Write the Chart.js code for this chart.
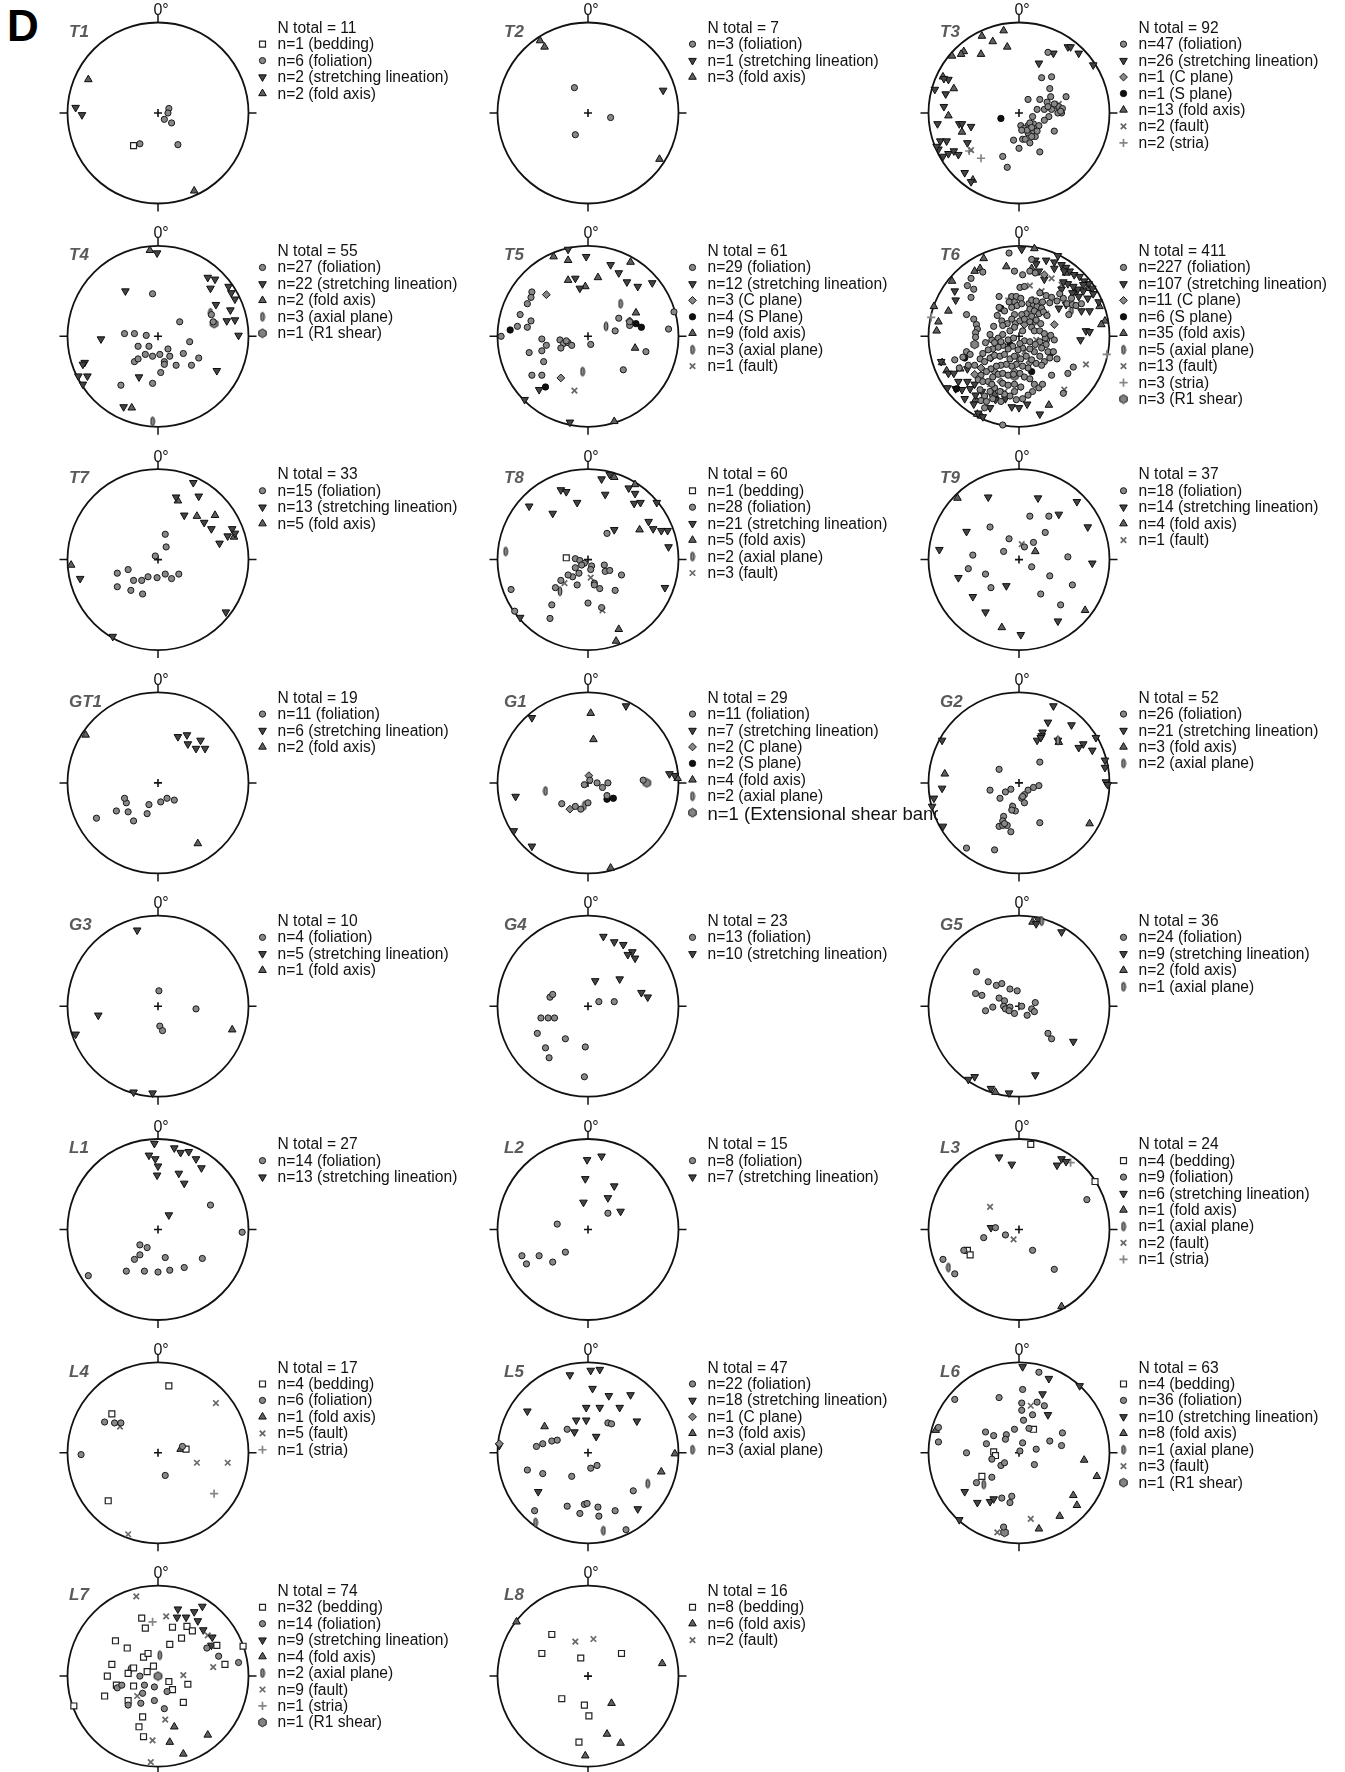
<!DOCTYPE html>
<html>
<head>
<meta charset="utf-8">
<script src="https://cdn.jsdelivr.net/npm/chart.js@4.4.1/dist/chart.umd.min.js"></script>
<style>
  html, body { margin: 0; padding: 0; background: #fff; }
  #sheet { position: relative; width: 1345px; height: 1772px; overflow: hidden; background: #fff; }
  #sheet canvas { position: absolute; }
  #panel { position: absolute; left: 7px; top: 4px; font: bold 44px "Liberation Sans", Arial, sans-serif; line-height: 44px; color: #000; }
</style>
</head>
<body>
<div id="sheet"><div id="panel">D</div></div>
<script>
// Stereonet projections: x, y in percent of the primitive circle radius (east, north).
// Keys: b bedding, f foliation, s stretching lineation, c C plane, S S plane,
// a fold axis, p axial plane, x fault, t stria, r R1 shear, e extensional shear band.

const T1 = { b:[-27,-36], f:[-20,-34, 12,5, 11,0, 7,-7, 15,-11, 22,-35], s:[-91,6, -84,-2], a:[-77,37, 40,-86] };
const T1_KEY = ['N total = 11', ['b','n=1 (bedding)'], ['f','n=6 (foliation)'], ['s','n=2 (stretching lineation)'], ['a','n=2 (fold axis)']];

const T2 = { f:[-15,28, -14,-24, 25,-5], s:[83,25], a:[-53,80, -48,73, 79,-51] };
const T2_KEY = ['N total = 7', ['f','n=3 (foliation)'], ['s','n=1 (stretching lineation)'], ['a','n=3 (fold axis)']];

const T3 = {
  f:[32,67, 25,39, 36,40, 34,27, 10,15, 23,15, 35,18, 52,18, 31,12, 20,4, 28,4, 36,4, 15,-4, 33,-4, 28,-8, 44,7, 48,5, 47,0, 43,0, 2,-14, 10,-14, 16,-12, 6,-17, 13,-18, 19,-17, 22,-14, 16,-21, 10,-22, 18,-26, -6,-30, 4,-29, 7,-29, 12,-33, 0,-39, 23,-43, 39,-20, -18,-48, -13,-60, 14,-26, 9,-19, 3,-19, 12,-11, 39,10, 46,2, 20,-20, 14,-16, 32,7],
  s:[38,66, 54,73, 57,73, 66,66, 82,53, 22,55, -78,37, -93,26, -81,21, -83,7, -90,-12, -66,-12, -63,-12, -53,-15, -87,-31, -80,-31, -89,-40, -84,-48, -78,-45, -72,-42, -67,-46, -57,-33, -60,-66, -53,-76, -91,-37, -83,38],
  a:[-17,91, -41,85, -29,79, -13,73, -61,68, -64,65, -74,63, -42,65, -84,40, -72,27, -78,-3, -63,-21, -51,-74],
  c:[41,8], S:[-20,-6], x:[-53,-41, 44,10], t:[-42,-50, -55,-42]
};
const T3_KEY = ['N total = 92', ['f','n=47 (foliation)'], ['s','n=26 (stretching lineation)'], ['c','n=1 (C plane)'], ['S','n=1 (S plane)'], ['a','n=13 (fold axis)'], ['x','n=2 (fault)'], ['t','n=2 (stria)']];

const T4 = {
  f:[-6,47, 24,16, -37,3, -26,3, -13,1, -22,-11, -10,-11, -14,-20, -6,-22, 2,-20, 11,-14, 13,-22, 7,-28, 7,-31, 20,-32, 28,-19, 35,-6, 45,-24, 37,-32, 3,-40, -6,-52, -41,-54, -26,-28, -22,-25, 59,24, 61,16],
  s:[-1,92, -36,50, 55,65, 63,63, 58,53, 78,55, 81,48, 85,41, 64,35, 80,29, 76,17, 85,18, 89,1, -63,-3, -81,-29, -83,-31, -88,-44, -78,-44, -83,-53, -21,-45, 65,-38, -38,-78],
  a:[-9,95, -29,-79], p:[-6,-94, 58,26], r:[62,14]
};
const T4_KEY = ['N total = 55', ['f','n=27 (foliation)'], ['s','n=22 (stretching lineation)'], ['a','n=2 (fold axis)'], ['p','n=3 (axial plane)'], ['r','n=1 (R1 shear)']];

const T5 = {
  f:[-62,49, -63,43, -67,36, -75,24, -63,17, -67,10, -78,11, -96,0, -51,-3, -46,-10, -51,-16, -65,-18, -49,-28, -62,-43, -51,-43, -31,-4, -27,-8, -22,-7, -18,-10, -30,-13, 3,-9, 30,6, 34,20, 46,12, 64,-17, 39,-37, 89,8, 95,27, -24,-5, 46,16],
  S:[-86,7, -47,-56, 53,14, 59,10], c:[-46,46, -30,-46, 46,17], p:[36,36, 20,11, -6,-39], x:[-15,-60],
  s:[-22,96, -2,88, 25,79, 34,70, 43,60, 55,55, 71,59, -14,64, -9,53, -54,-59, -70,-70, -20,-95],
  a:[-38,88, -22,84, 47,82, 11,65, -22,62, -3,55, 53,26, 52,-13, 29,-94]
};
const T5_KEY = ['N total = 61', ['f','n=29 (foliation)'], ['s','n=12 (stretching lineation)'], ['c','n=3 (C plane)'], ['S','n=4 (S Plane)'], ['a','n=9 (fold axis)'], ['p','n=3 (axial plane)'], ['x','n=1 (fault)']];

const T6 = {
  f:[-11,92, 14,85, -5,72, 4,68, 12,72, 18,70, -40,71, -53,64, -57,56, -50,52, -53,43, 1,54, 6,55, -58,24, -50,19, -47,13, -46,8, -48,4, -48,-1, 23,48, 30,45, 36,43, 42,39, 49,42, 53,36, 59,35, 63,34, -8,44, -3,44, 2,42, -5,38, -8,32, -2,34, 3,36, 11,36, 16,35, 20,33, 25,31, 12,30, 17,28, 22,25, 27,27, 31,23, 8,25, 14,22, 3,24, -5,24, -8,19, -13,14, -4,14, 1,17, 6,19, 12,16, 19,18, 24,14, 14,10, 4,6, -5,10, -10,6, -19,17, -22,32, -18,12, -24,23, -37,-7, -30,-4, -23,-2, -18,2, -12,-4, -6,-2, 6,-5, 12,-6, 23,-6, 29,-2, 35,1, 39,-4, 30,-9, 25,-13, 32,-17, 38,-17, 42,-25, 34,-24, 28,-28, 23,-22, 17,-17, 12,-14, 4,-13, -1,-15, -7,-11, -12,-14, -18,-10, -23,-12, -29,-14, -34,-15, -40,-19, -43,-25, -38,-28, -32,-24, -27,-21, -21,-22, -16,-20, -10,-25, -5,-22, 2,-25, 8,-22, 14,-26, 19,-30, 25,-32, 10,-35, 4,-33, -3,-31, -8,-33, -14,-31, -20,-32, -25,-33, -31,-36, -36,-39, -42,-43, -45,-48, -40,-50, -34,-50, -29,-45, -23,-42, -18,-41, -12,-43, -6,-42, 1,-41, 6,-45, 12,-47, 17,-53, 22,-57, 26,-53, 15,-61, 10,-65, 4,-69, -3,-70, -10,-66, -16,-64, -21,-61, -27,-57, -32,-61, -38,-66, -42,-71, -36,-72, -29,-69, -20,-72, -18,-52, -12,-54, -5,-53, 2,-56, -5,-61, 36,-43, 54,-41, 60,-34, 49,-63, -38,-79, -18,-98, -58,-17, -54,-20, -62,-23, -71,-26, -66,-35, -56,-32, -49,-32, -30,-53, -43,-59, -22,44, 34,37, 14,40, 19,39, 26,38, -16,28, -11,38, -28,11, -32,2, 17,6, 23,6, 28,3, -27,-7, -20,-6, 1,-8, 18,-9, 45,47, 58,42, 69,36, 55,24],
  s:[3,96, 18,84, 30,84, 22,72, 28,63, 43,89, 39,82, 47,79, 52,76, 56,72, 61,68, 67,66, 72,61, 77,58, 81,53, 71,50, 65,52, 60,55, 54,58, 49,60, 47,52, 59,48, 66,44, 76,42, 82,47, 88,38, 78,28, 69,28, 44,31, 74,6, 78,5, 68,-4, -71,50, -70,40, -86,-28, -78,-41, -72,-41, -57,-36, -67,-50, -57,-50, -79,-57, -70,-58, -63,-59, -54,-58, -48,-65, -41,-61, -60,-69, -50,-75, -45,-85, -40,-89, -26,-70, -15,-69, 0,-79, 23,-86, -8,-78, 9,-75, -32,-79, -49,-53, 50,72, 39,75, 71,57, 52,35, 19,80],
  a:[-39,86, 17,97, -49,72, -43,75, -14,77, -74,61, -78,28, -94,33, -89,16, -91,6, -85,-29, -65,-36, -80,-38, 89,33, 95,17, 91,13, 33,-76, -46,-86, -48,-70, 52,70, 76,53, -27,-64, 61,48, 14,75, -42,-88],
  x:[12,56, 36,64, 30,25, 19,-4, 74,-31, 50,-59, -21,29, 0,-57, -32,-53, 25,50, 47,57, -16,-61, 6,-17],
  t:[-97,21, 97,-20, -11,42],
  c:[-42,-35, 28,68, 21,26, 12,-29, -31,-24, -5,-39, 39,13, -20,-50, 6,13, -49,-42, -27,-39],
  S:[-60,-24, -69,-58, -10,-9, 14,-39, -20,31, 36,-18],
  p:[32,-2, -31,-63, -1,-24, 15,39, 58,29],
  r:[-49,-9, -5,-44, 17,17]
};
const T6_KEY = ['N total = 411', ['f','n=227 (foliation)'], ['s','n=107 (stretching lineation)'], ['c','n=11 (C plane)'], ['S','n=6 (S plane)'], ['a','n=35 (fold axis)'], ['p','n=5 (axial plane)'], ['x','n=13 (fault)'], ['t','n=3 (stria)'], ['r','n=3 (R1 shear)']];

const T7 = {
  f:[8,28, 9,14, -3,4, -45,-15, -33,-11, -27,-23, -18,-23, -11,-19, -1,-20, 8,-16, 15,-21, 23,-16, -17,-38, -30,-34, -45,-30],
  s:[39,85, 45,70, 29,49, 51,41, 59,34, 82,34, 77,26, 68,18, 85,29, -86,-21, 75,-58, -50,-85, 20,69],
  a:[22,65, 43,48, 63,49, 84,25, -96,-6]
};
const T7_KEY = ['N total = 33', ['f','n=15 (foliation)'], ['s','n=13 (stretching lineation)'], ['a','n=5 (fold axis)']];

const T8 = {
  b:[-24,2],
  f:[21,29, -14,1, -9,-1, 4,-7, 3,-11, -14,-9, -10,-15, -17,-19, -22,-17, -12,-28, -36,-31, 7,-26, 7,-28, 13,-32, 18,-6, 19,-13, 24,-12, 37,-17, 30,-34, 0,-48, 15,-53, -40,-50, -42,-65, -85,-33, -81,-57, -4,-4, -7,-6, -30,-23],
  s:[15,89, 24,94, -30,77, -24,75, -12,63, 19,72, 45,79, 52,73, 51,62, 58,63, 76,63, -65,59, -39,51, 29,33, 67,42, 72,34, 81,32, 88,32, 89,14, 85,-31, -75,-64],
  a:[29,91, 52,83, 57,33, 34,-77, 31,-90], p:[-91,9, -31,-35], x:[3,-20, -26,-26, 16,-56]
};
const T8_KEY = ['N total = 60', ['b','n=1 (bedding)'], ['f','n=28 (foliation)'], ['s','n=21 (stretching lineation)'], ['a','n=5 (fold axis)'], ['p','n=2 (axial plane)'], ['x','n=3 (fault)']];

const T9 = {
  f:[-32,36, -11,23, 12,48, 33,48, 29,30, 16,19, 6,14, -17,9, -51,5, -56,-10, -37,-16, -31,-31, 14,-8, 34,-18, 54,3, 59,-28, 24,-38, 46,-50],
  s:[-34,69, -88,11, -67,-20, -51,-41, -37,-58, 2,-83, 43,-68, 76,36, 81,-4, 44,50, -58,31, 21,68, 64,64, -14,-29],
  a:[-68,68, 18,9, 73,-56, -19,-75], x:[3,17]
};
const T9_KEY = ['N total = 37', ['f','n=18 (foliation)'], ['s','n=14 (stretching lineation)'], ['a','n=4 (fold axis)'], ['x','n=1 (fault)']];

const GT1 = {
  f:[-68,-39, -46,-31, -35,-22, -33,-32, -12,-34, -10,-24, 3,-21, 10,-17, 18,-19, -27,-42, -37,-17],
  s:[22,51, 32,53, 33,43, 42,38, 52,38, 47,47], a:[-80,53, 44,-67]
};
const GT1_KEY = ['N total = 19', ['f','n=11 (foliation)'], ['s','n=6 (stretching lineation)'], ['a','n=2 (fold axis)']];

const G1 = {
  f:[2,3, -4,-2, 10,0, 16,-5, 21,-14, 0,-22, -14,-26, -8,-29, -29,-23, 22,0, 61,3],
  s:[-62,72, -80,-15, -82,-53, 96,8, 90,10, -62,-70, 42,85],
  a:[3,77, 6,48, 25,-94, 99,5], S:[21,-18, 28,-17], c:[1,8, -20,-29], p:[-47,-9, -4,-25], e:[65,0]
};
const G1_KEY = ['N total = 29', ['f','n=11 (foliation)'], ['s','n=7 (stretching lineation)'], ['c','n=2 (C plane)'], ['S','n=2 (S plane)'], ['a','n=4 (fold axis)'], ['p','n=2 (axial plane)'], ['e','n=1 (Extensional shear band)']];

const G2 = {
  f:[23,23, -22,15, -32,-8, -15,-10, -9,-7, -21,-17, 10,-8, 16,-5, 22,-3, 6,-13, 3,-17, 6,-22, -7,-26, -4,-31, -8,-30, -17,-37, -18,-42, -22,-48, -18,-47, -13,-47, -9,-54, 23,-44, -58,-72, -27,-74, -16,-45, 4,-15],
  s:[38,85, 32,67, 58,64, 26,56, 25,52, 20,47, 24,50, 71,43, 66,39, 81,36, 85,50, 95,25, 95,17, 96,1, 98,-2, -85,47, -85,-6, -94,-17, -96,-26, -84,-48, 43,47],
  a:[-82,10, 78,-45, 44,45], p:[43,47, -8,-27]
};
const G2_KEY = ['N total = 52', ['f','n=26 (foliation)'], ['s','n=21 (stretching lineation)'], ['a','n=3 (fold axis)'], ['p','n=2 (axial plane)']];

const G3 = { f:[1,17, 42,-3, 2,-22, 5,-27], s:[-23,84, -66,-10, -91,-31, -27,-95, -6,-96], a:[82,-26] };
const G3_KEY = ['N total = 10', ['f','n=4 (foliation)'], ['s','n=5 (stretching lineation)'], ['a','n=1 (fold axis)']];

const G4 = {
  f:[-42,10, -52,-13, -44,-13, -37,-13, -56,-30, -47,-46, -43,-57, -25,-36, -3,-45, 12,5, 29,5, -4,-78, -39,13],
  s:[17,77, 29,71, 39,68, 49,60, 52,53, 8,28, 35,30, 59,15, 66,10, 44,57]
};
const G4_KEY = ['N total = 23', ['f','n=13 (foliation)'], ['s','n=10 (stretching lineation)']];

const G5 = {
  f:[-47,38, -34,27, -25,23, -19,25, -10,19, -2,17, -48,14, -41,12, -22,9, -16,6, -29,-1, -37,-5, -17,0, -15,-3, -10,-1, -11,-5, -5,-8, 3,0, 9,-10, 14,-3, 18,4, 17,-6, 32,-30, 36,-36],
  s:[21,96, 19,91, 47,82, 60,-39, 18,-76, -49,-78, -56,-81, -31,-91, -11,-96],
  a:[15,93, -26,-95], p:[25,94]
};
const G5_KEY = ['N total = 36', ['f','n=24 (foliation)'], ['s','n=9 (stretching lineation)'], ['a','n=2 (fold axis)'], ['p','n=1 (axial plane)']];

const L1 = {
  f:[-20,-17, -12,-20, -20,-28, -26,-33, 8,-31, -35,-46, -15,-46, 0,-47, 13,-45, 29,-42, 49,-32, -77,-51, 93,-3, 58,27],
  s:[-4,95, -3,78, -1,60, 18,90, 25,85, 34,86, 42,78, 48,68, 23,62, 29,51, 0,70, 12,16, -10,82]
};
const L1_KEY = ['N total = 27', ['f','n=14 (foliation)'], ['s','n=13 (stretching lineation)']];

const L2 = {
  f:[-34,6, 22,18, -73,-29, -68,-38, -54,-29, -39,-36, -25,-25],
  s:[-1,77, 15,81, -3,56, -5,30, 22,35, 29,48, 36,20]
};
const L2_KEY = ['N total = 15', ['f','n=8 (foliation)'], ['s','n=7 (stretching lineation)']];

const L3 = {
  b:[13,94, 84,53, -57,-23, -54,-28],
  f:[75,33, -26,2, -15,-6, -39,-9, 15,-23, -61,-23, -84,-33, -71,-49, 39,-44],
  s:[-22,80, -8,72, 42,71, 47,78, 52,75, -31,2],
  a:[47,-85], p:[-78,-42], x:[-32,25, -6,-11], t:[57,74]
};
const L3_KEY = ['N total = 24', ['b','n=4 (bedding)'], ['f','n=9 (foliation)'], ['s','n=6 (stretching lineation)'], ['a','n=1 (fold axis)'], ['p','n=1 (axial plane)'], ['x','n=2 (fault)'], ['t','n=1 (stria)']];

const L4 = {
  b:[12,74, -51,43, -55,-53, 31,4],
  f:[-59,34, -48,33, -41,33, 27,7, 8,-25, -85,-2],
  a:[25,4], x:[64,55, 43,-11, 77,-11, -33,-90, -42,29], t:[62,-45]
};
const L4_KEY = ['N total = 17', ['b','n=4 (bedding)'], ['f','n=6 (foliation)'], ['a','n=1 (fold axis)'], ['x','n=5 (fault)'], ['t','n=1 (stria)']];

const L5 = {
  f:[-23,26, 22,33, 26,32, -57,7, -50,10, -40,13, -34,14, 3,-17, 10,-14, -67,-19, -50,-23, -18,-26, 50,-42, -59,-64, -23,-59, -4,-57, -1,-56, -9,-67, 11,-60, 12,-70, 30,-64, 42,-85],
  s:[-20,86, 3,91, 13,92, 5,71, 23,63, 47,64, -67,46, -2,50, 13,50, 35,50, -13,36, -2,36, -15,23, 9,18, 54,35, -98,8, -55,-43, 55,-62],
  c:[-98,10], a:[-48,29, 96,-1, 81,-21], p:[66,-34, -58,-77, 17,-86]
};
const L5_KEY = ['N total = 47', ['f','n=22 (foliation)'], ['s','n=18 (stretching lineation)'], ['c','n=1 (C plane)'], ['a','n=3 (fold axis)'], ['p','n=3 (axial plane)']];

const L6 = {
  b:[16,26, -28,1, -26,-3, -41,-26],
  f:[22,89, 4,70, -71,59, -22,61, 3,55, 3,47, 20,56, 28,52, 15,42, 5,36, -5,26, 11,27, -89,28, -89,12, -37,23, -28,19, -14,20, -15,15, -36,10, 4,11, 34,13, 48,22, 47,8, 19,4, -58,0, -30,-7, -20,-14, -16,-11, 17,-13, -47,-33, -30,-27, -19,-50, -8,-48, -10,-55, -17,-82, 1,2],
  s:[4,95, 33,82, 67,74, 26,65, 32,42, -60,-43, -46,-55, -32,-54, -28,-51, -66,-74],
  a:[72,-8, 86,-26, 60,-47, 64,-58, 45,-70, 22,-84, -92,25],
  p:[-39,-35], x:[13,52, 13,-73, -24,-88], r:[-16,-88]
};
const L6_KEY = ['N total = 63', ['b','n=4 (bedding)'], ['f','n=36 (foliation)'], ['s','n=10 (stretching lineation)'], ['a','n=8 (fold axis)'], ['p','n=1 (axial plane)'], ['x','n=3 (fault)'], ['r','n=1 (R1 shear)']];

const L7 = {
  b:[-18,64, -14,53, 16,54, 32,55, 38,50, 26,42, 13,35, -47,39, -34,31, 65,34, 94,33, 74,13, -16,21, -11,25, -51,13, -27,9, -33,3, -12,5, -5,11, -56,0, -46,-10, -27,-11, 12,-6, 16,-15, 33,-9, -59,-22, -33,-27, 28,-29, -17,-45, -21,-56, -16,-67, -93,-33],
  f:[54,31, 67,22, 89,15, -20,0, -45,-13, -40,-10, -15,-10, -4,-12, -17,-19, 10,-17, -33,-32, -19,-30, -4,-27, 7,-36],
  s:[22,74, 31,65, 40,71, 49,77, 21,65, 44,61, 50,51, 60,43, 59,34],
  a:[18,-56, 13,-73, 55,-65, 28,-86], p:[2,23, -31,7],
  x:[-24,88, 9,66, 55,45, 61,10, 28,1, -23,-22, 8,-48, -6,-71, -8,-95],
  t:[-6,60], r:[0,0]
};
const L7_KEY = ['N total = 74', ['b','n=32 (bedding)'], ['f','n=14 (foliation)'], ['s','n=9 (stretching lineation)'], ['a','n=4 (fold axis)'], ['p','n=2 (axial plane)'], ['x','n=9 (fault)'], ['t','n=1 (stria)'], ['r','n=1 (R1 shear)']];

const L8 = {
  b:[-40,46, -51,25, -8,20, 37,25, -29,-25, -4,-32, 1,-44, -10,-73],
  a:[-79,60, 82,14, 26,-30, 21,-64, 36,-74, -3,-88], x:[-14,38, 6,41]
};
const L8_KEY = ['N total = 16', ['b','n=8 (bedding)'], ['a','n=6 (fold axis)'], ['x','n=2 (fault)']];

const NETS = [
  ['T1', T1, T1_KEY], ['T2', T2, T2_KEY], ['T3', T3, T3_KEY],
  ['T4', T4, T4_KEY], ['T5', T5, T5_KEY], ['T6', T6, T6_KEY],
  ['T7', T7, T7_KEY], ['T8', T8, T8_KEY], ['T9', T9, T9_KEY],
  ['GT1', GT1, GT1_KEY], ['G1', G1, G1_KEY], ['G2', G2, G2_KEY],
  ['G3', G3, G3_KEY], ['G4', G4, G4_KEY], ['G5', G5, G5_KEY],
  ['L1', L1, L1_KEY], ['L2', L2, L2_KEY], ['L3', L3, L3_KEY],
  ['L4', L4, L4_KEY], ['L5', L5, L5_KEY], ['L6', L6, L6_KEY],
  ['L7', L7, L7_KEY], ['L8', L8, L8_KEY]
];

// ---- layout ----
const COL_X = [158, 588, 1019];
const CANVAS_W = [430, 456, 432];
const TITLE_DX = [-89, -84, -79];
const ROW0 = 113, ROW_STEP = 223.3, R = 90.5;
const FONT = '"Liberation Sans", Arial, Helvetica, sans-serif';

// ---- marker symbols ----
function lensImage() {
  const c = document.createElement('canvas');
  c.width = 6; c.height = 12;
  const g = c.getContext('2d');
  g.beginPath(); g.ellipse(3, 6, 1.9, 4.4, 0, 0, Math.PI * 2);
  g.fillStyle = '#8a8a8a'; g.fill();
  g.strokeStyle = '#1a1a1a'; g.lineWidth = 1; g.stroke();
  return c;
}
function hexImage() {
  const c = document.createElement('canvas');
  c.width = 11; c.height = 11;
  const g = c.getContext('2d');
  g.beginPath();
  for (let i = 0; i < 6; i++) {
    const t = Math.PI / 3 * i + Math.PI / 6;
    g.lineTo(5.5 + 4.3 * Math.cos(t), 5.5 + 4.3 * Math.sin(t));
  }
  g.closePath();
  g.fillStyle = '#838383'; g.fill();
  g.strokeStyle = '#1a1a1a'; g.lineWidth = 1; g.stroke();
  return c;
}
const LENS = lensImage(), HEX = hexImage();

const MARK = {
  f: { style: 'circle',   radius: 3.1, rot: 0,   fill: '#888888', stroke: '#181818', lw: 1.0 },
  b: { style: 'rect',     radius: 4.2, rot: 0,   fill: '#ffffff', stroke: '#222222', lw: 1.2 },
  c: { style: 'rectRot',  radius: 3.9, rot: 0,   fill: '#888888', stroke: '#181818', lw: 1.0 },
  S: { style: 'circle',   radius: 3.2, rot: 0,   fill: '#101010', stroke: '#000000', lw: 0.8 },
  p: { style: LENS,       radius: 4,   rot: 0,   fill: '#8a8a8a', stroke: '#1a1a1a', lw: 0 },
  r: { style: HEX,        radius: 4,   rot: 0,   fill: '#838383', stroke: '#1a1a1a', lw: 0 },
  e: { style: HEX,        radius: 4,   rot: 0,   fill: '#838383', stroke: '#1a1a1a', lw: 0 },
  s: { style: 'triangle', radius: 4.4, rot: 180, fill: '#444444', stroke: '#0e0e0e', lw: 1.0 },
  a: { style: 'triangle', radius: 4.4, rot: 0,   fill: '#606060', stroke: '#0e0e0e', lw: 1.0 },
  x: { style: 'crossRot', radius: 3.9, rot: 0,   fill: '#6a6a6a', stroke: '#686868', lw: 1.7 },
  t: { style: 'cross',    radius: 4.1, rot: 0,   fill: '#8c8c8c', stroke: '#868686', lw: 1.7 }
};
const ORDER = ['f', 'b', 'c', 'S', 'p', 'r', 'e', 's', 'a', 'x', 't'];

function pairs(arr) {
  const out = [];
  for (let i = 0; i < arr.length; i += 2) out.push({ x: arr[i], y: arr[i + 1] });
  return out;
}

function drawMarker(ctx, type, x, y) {
  const m = MARK[type];
  ctx.save();
  ctx.fillStyle = m.fill; ctx.strokeStyle = m.stroke; ctx.lineWidth = m.lw;
  Chart.helpers.drawPoint(ctx, { pointStyle: m.style, rotation: m.rot, radius: m.radius, borderWidth: m.lw }, x, y);
  ctx.restore();
}

// Frame, crosshair, north label, title and key of one net
function netPlugin(name, key, col) {
  return {
    id: 'stereonet',
    beforeDatasetsDraw(chart) {
      const { ctx, chartArea: a } = chart;
      const cx = (a.left + a.right) / 2, cy = (a.top + a.bottom) / 2, r = (a.right - a.left) / 2;
      ctx.save();
      ctx.strokeStyle = '#121212';
      ctx.lineWidth = 1.8;
      ctx.beginPath(); ctx.arc(cx, cy, r, 0, Math.PI * 2); ctx.stroke();
      ctx.lineWidth = 1.5;
      ctx.beginPath();
      ctx.moveTo(cx, cy - r); ctx.lineTo(cx, cy - r - 8);
      ctx.moveTo(cx, cy + r); ctx.lineTo(cx, cy + r + 8);
      ctx.moveTo(cx - r, cy); ctx.lineTo(cx - r - 8, cy);
      ctx.moveTo(cx + r, cy); ctx.lineTo(cx + r + 8, cy);
      ctx.stroke();
      ctx.lineWidth = 1.6;
      ctx.beginPath();
      ctx.moveTo(cx - 4, cy); ctx.lineTo(cx + 4, cy);
      ctx.moveTo(cx, cy - 4); ctx.lineTo(cx, cy + 4);
      ctx.stroke();
      ctx.fillStyle = '#111';
      ctx.font = '16px ' + FONT;
      ctx.textAlign = 'left'; ctx.textBaseline = 'alphabetic';
      ctx.fillText('0°', cx - 4.6, cy - 98);
      ctx.restore();
    },
    afterDraw(chart) {
      const { ctx, chartArea: a } = chart;
      const cx = (a.left + a.right) / 2, cy = (a.top + a.bottom) / 2;
      ctx.save();
      ctx.fillStyle = '#5a5a5a';
      ctx.font = 'italic bold 17px ' + FONT;
      ctx.textAlign = 'left'; ctx.textBaseline = 'alphabetic';
      ctx.fillText(name, cx + TITLE_DX[col], cy - 76.3);

      const tx = cx + 119.5, mx = cx + 104.5, step = 16.45;
      key.forEach((row, i) => {
        const base = cy - 80.3 + i * step;
        ctx.fillStyle = '#121212';
        if (typeof row === 'string') {
          ctx.font = '15.6px ' + FONT;
          ctx.fillText(row, tx, base);
          return;
        }
        const [type, label] = row;
        drawMarker(ctx, type, mx, base - 5);
        ctx.fillStyle = '#121212';
        ctx.font = (type === 'e' ? '18.5px ' : '15.6px ') + FONT;
        ctx.fillText(label, tx, base + (type === 'e' ? 2 : 0));
      });
      ctx.restore();
    }
  };
}

const sheet = document.getElementById('sheet');
NETS.forEach(([name, pts, key], i) => {
  const col = i % 3, row = Math.floor(i / 3);
  const cx = COL_X[col], cy = ROW0 + row * ROW_STEP;
  const left = Math.round(cx - 106), top = Math.round(cy - 113);
  const w = CANVAS_W[col], h = 223;
  const cv = document.createElement('canvas');
  cv.width = w; cv.height = h;
  cv.style.left = left + 'px'; cv.style.top = top + 'px';
  cv.style.width = w + 'px'; cv.style.height = h + 'px';
  sheet.appendChild(cv);

  const padL = cx - R - left, padT = cy - R - top;
  const datasets = ORDER.filter(t => pts[t]).map(t => {
    const m = MARK[t];
    return {
      label: t,
      data: pairs(pts[t]),
      pointStyle: m.style,
      pointRadius: m.radius,
      pointRotation: m.rot,
      pointBackgroundColor: m.fill,
      pointBorderColor: m.stroke,
      pointBorderWidth: m.lw,
      showLine: false,
      clip: false
    };
  });

  new Chart(cv, {
    type: 'scatter',
    data: { datasets },
    options: {
      responsive: false,
      animation: false,
      devicePixelRatio: 1,
      events: [],
      layout: { padding: { left: padL, top: padT, right: w - padL - 2 * R, bottom: h - padT - 2 * R } },
      scales: {
        x: { type: 'linear', min: -100, max: 100, display: false },
        y: { type: 'linear', min: -100, max: 100, display: false }
      },
      plugins: { legend: { display: false }, tooltip: { enabled: false } }
    },
    plugins: [netPlugin(name, key, col)]
  });
});
</script>
</body>
</html>
